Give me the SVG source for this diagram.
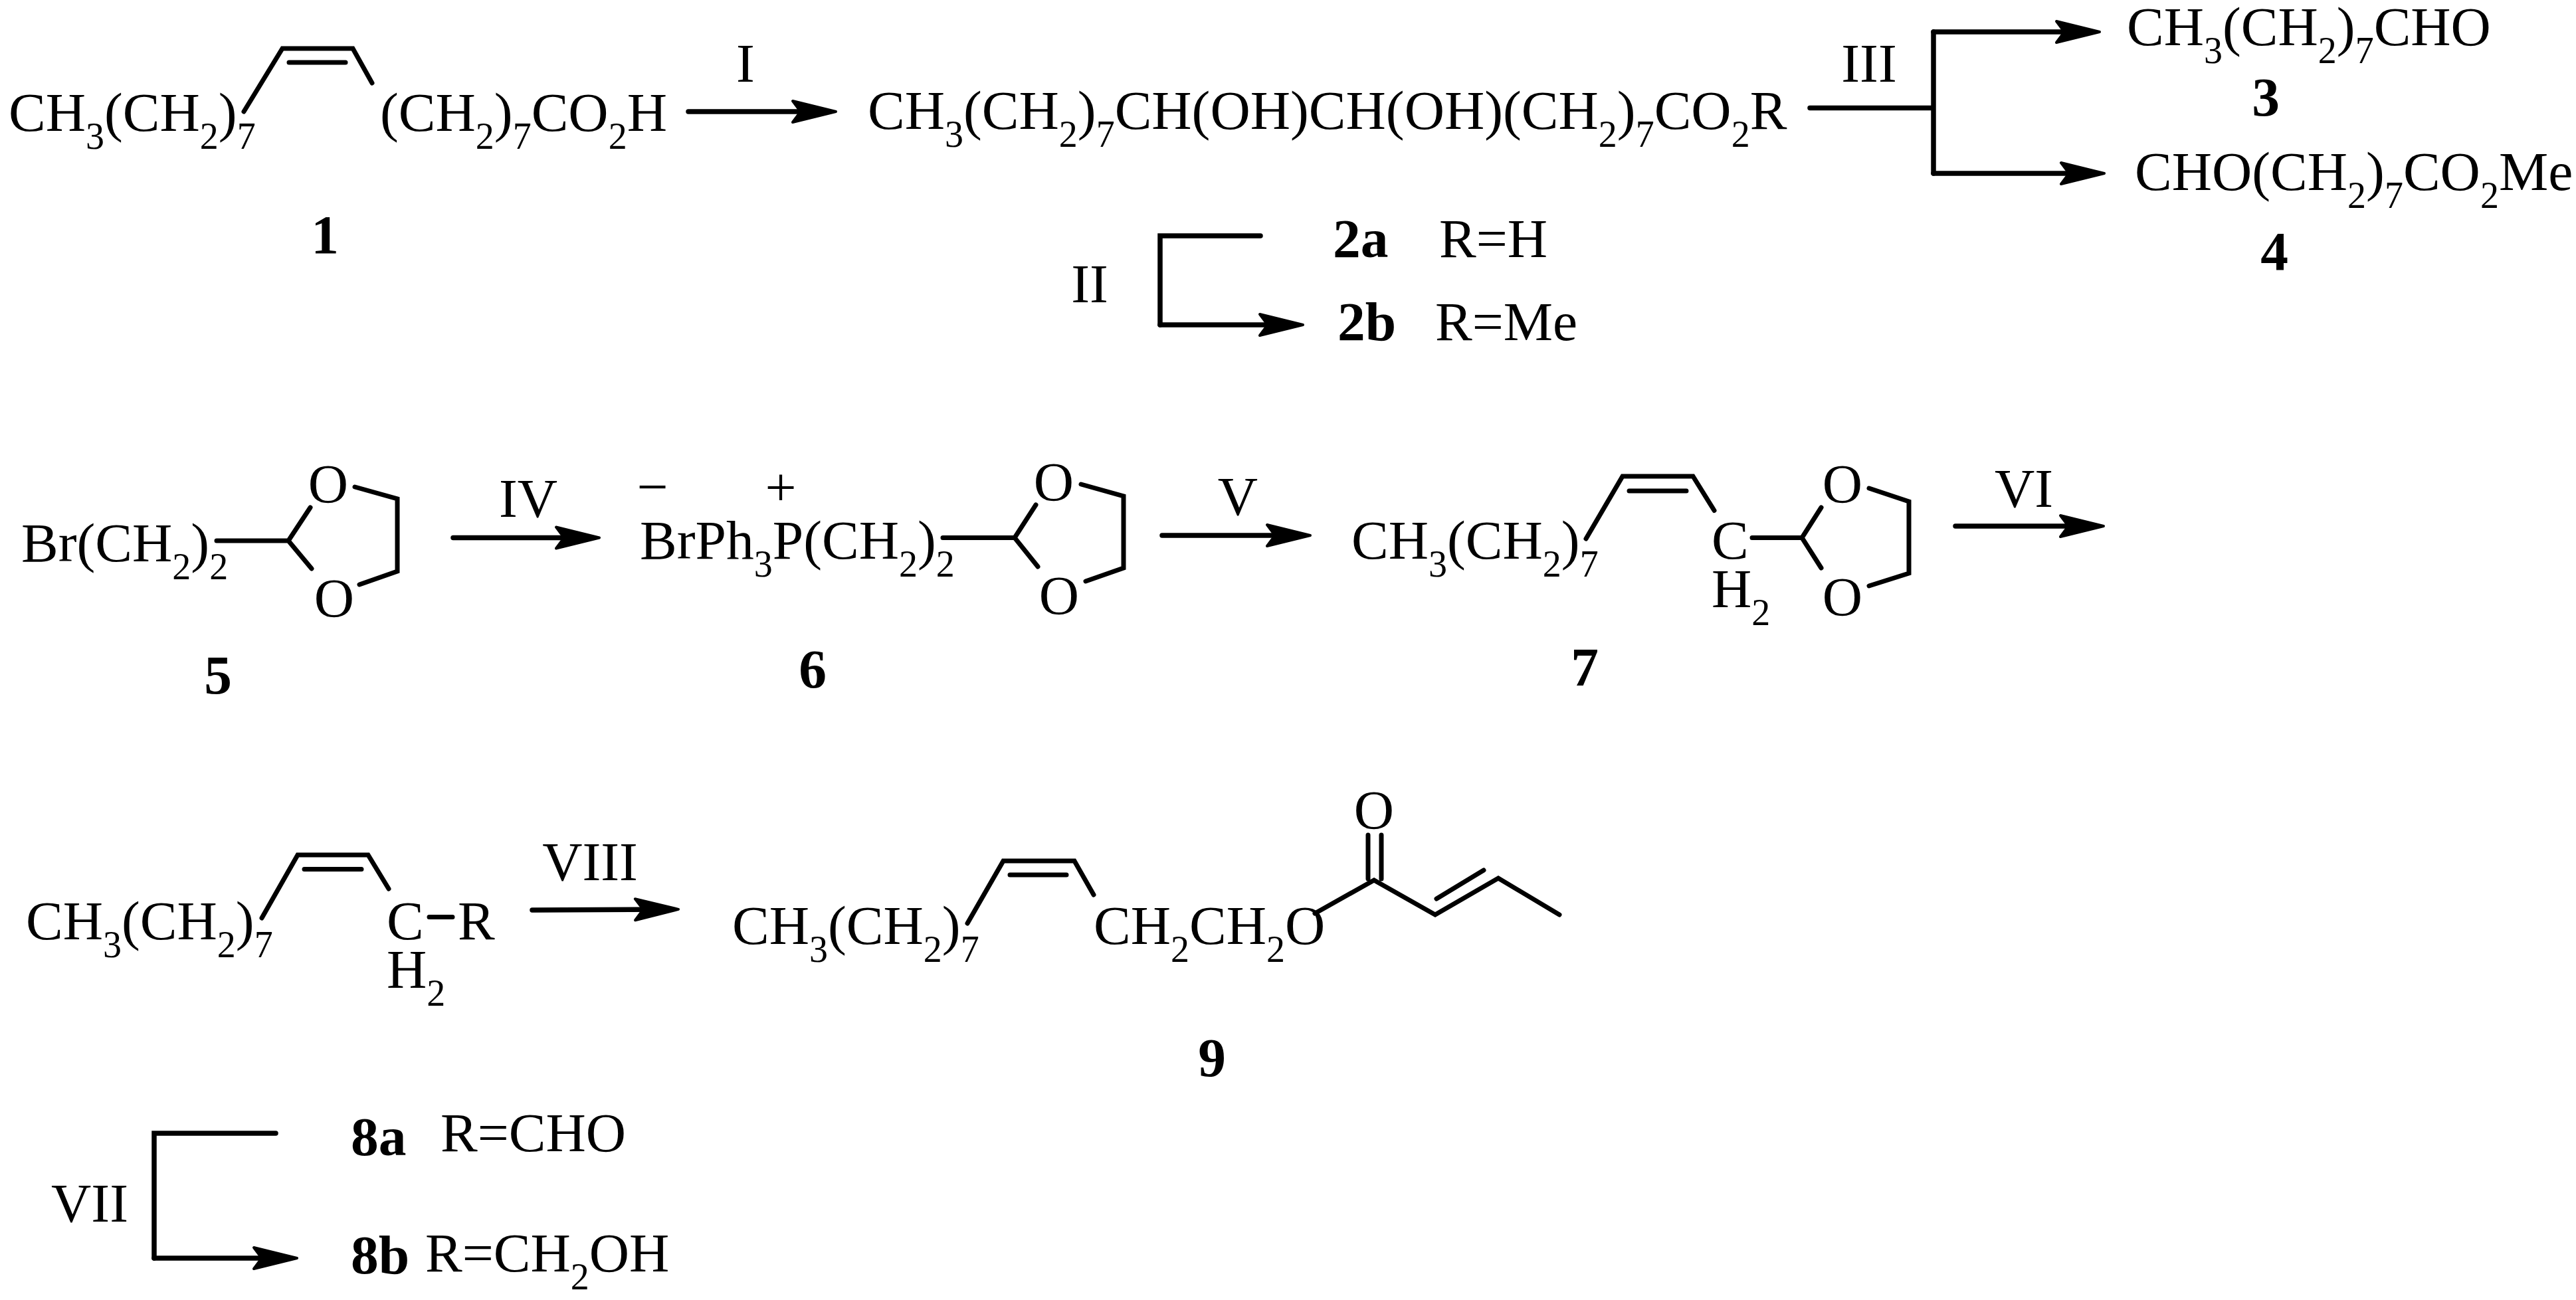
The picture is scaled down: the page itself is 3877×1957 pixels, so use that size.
<svg xmlns="http://www.w3.org/2000/svg" width="3877" height="1957" viewBox="0 0 3877 1957">
<style>
text{font-family:"Liberation Serif","Times New Roman",serif;font-size:83.500px;fill:#000}
.b{font-weight:bold}
.m{text-anchor:middle}
.s{font-size:56px}
.bond{fill:none;stroke:#000;stroke-width:7;stroke-linejoin:miter;stroke-linecap:round}
.arrow{fill:none;stroke:#000;stroke-width:7.500;stroke-linejoin:miter;stroke-linecap:round}
.head{marker-end:url(#ah)}
</style>
<defs>
<marker id="ah" markerUnits="userSpaceOnUse" markerWidth="90" markerHeight="48" viewBox="0 -24 90 48" refX="44" refY="0" orient="auto" overflow="visible">
<path d="M2 -16L67 0L2 16L14 0Z" fill="#000" stroke="#000" stroke-width="4" stroke-linejoin="round"/>
</marker>
</defs>
<rect width="3877" height="1957" fill="#fff"/>
<g id="connectors">
<path class="arrow head" d="M1036 168H1235"/>
<path class="arrow" d="M2724 162.500H2910M2910 48V261"/>
<path class="arrow head" d="M2910 48H3137"/>
<path class="arrow head" d="M2910 261H3144"/>
<path class="arrow" d="M1897 355H1746V489"/>
<path class="arrow head" d="M1746 489H1938"/>
<path class="arrow head" d="M682 809.500H879"/>
<path class="arrow head" d="M1749 806H1949"/>
<path class="arrow head" d="M2943 792H3143"/>
<path class="arrow head" d="M801 1370L998 1369"/>
<path class="arrow" d="M415 1706H232V1894"/>
<path class="arrow head" d="M232 1894H424"/>
</g>
<g id="labels">
<text class="m" x="1122" y="123">I</text>
<text class="m" x="2813" y="123">III</text>
<text class="m" x="1640" y="455">II</text>
<text class="m" x="795" y="778">IV</text>
<text class="m" x="1863" y="775">V</text>
<text class="m" x="3046" y="763">VI</text>
<text class="m" x="135" y="1839">VII</text>
<text class="m" x="888" y="1325">VIII</text>
</g>
<g id="node-1">
<text x="13" y="197">CH<tspan class="s" dy="27">3</tspan><tspan dy="-27">(CH</tspan><tspan class="s" dy="27">2</tspan><tspan dy="-27">)</tspan><tspan class="s" dy="27">7</tspan></text>
<text x="572" y="197">(CH<tspan class="s" dy="27">2</tspan><tspan dy="-27">)</tspan><tspan class="s" dy="27">7</tspan><tspan dy="-27">CO</tspan><tspan class="s" dy="27">2</tspan><tspan dy="-27">H</tspan></text>
<path class="bond" d="M367 168L425 73H531L560 125M435 94H520"/>
<text class="b m" x="489" y="381">1</text>
</g>
<g id="node-2">
<text x="1306" y="194">CH<tspan class="s" dy="27">3</tspan><tspan dy="-27">(CH</tspan><tspan class="s" dy="27">2</tspan><tspan dy="-27">)</tspan><tspan class="s" dy="27">7</tspan><tspan dy="-27">CH(OH)CH(OH)(CH</tspan><tspan class="s" dy="27">2</tspan><tspan dy="-27">)</tspan><tspan class="s" dy="27">7</tspan><tspan dy="-27">CO</tspan><tspan class="s" dy="27">2</tspan><tspan dy="-27">R</tspan></text>
</g>
<g id="node-2a">
<text class="b" x="2006" y="387">2a</text>
<text x="2166" y="387">R=H</text>
</g>
<g id="node-2b">
<text class="b" x="2013" y="512">2b</text>
<text x="2160" y="512">R=Me</text>
</g>
<g id="node-3">
<text x="3201" y="68">CH<tspan class="s" dy="27">3</tspan><tspan dy="-27">(CH</tspan><tspan class="s" dy="27">2</tspan><tspan dy="-27">)</tspan><tspan class="s" dy="27">7</tspan><tspan dy="-27">CHO</tspan></text>
<text class="b m" x="3410" y="174">3</text>
</g>
<g id="node-4">
<text x="3213" y="286">CHO(CH<tspan class="s" dy="27">2</tspan><tspan dy="-27">)</tspan><tspan class="s" dy="27">7</tspan><tspan dy="-27">CO</tspan><tspan class="s" dy="27">2</tspan><tspan dy="-27">Me</tspan></text>
<text class="b m" x="3423" y="406">4</text>
</g>
<g id="node-5">
<text x="32" y="845">Br(CH<tspan class="s" dy="27">2</tspan><tspan dy="-27">)</tspan><tspan class="s" dy="27">2</tspan></text>
<path class="bond" d="M326 814H434M467 764L434 814L469 856M534 733L598 751V860L541 880"/>
<text class="m" x="494" y="756">O</text>
<text class="m" x="503" y="928">O</text>
<text class="b m" x="328" y="1044">5</text>
</g>
<g id="node-6">
<text class="m" x="982" y="761">−</text>
<text class="m" x="1175" y="761">+</text>
<text x="963" y="841">BrPh<tspan class="s" dy="27">3</tspan><tspan dy="-27">P(CH</tspan><tspan class="s" dy="27">2</tspan><tspan dy="-27">)</tspan><tspan class="s" dy="27">2</tspan></text>
<path class="bond" d="M1419 809.500H1527M1559 760L1527 809.500L1562 853M1627 729L1691 747V855L1634 875"/>
<text class="m" x="1586" y="753">O</text>
<text class="m" x="1594" y="924">O</text>
<text class="b m" x="1223" y="1035">6</text>
</g>
<g id="node-7">
<text x="2034" y="841">CH<tspan class="s" dy="27">3</tspan><tspan dy="-27">(CH</tspan><tspan class="s" dy="27">2</tspan><tspan dy="-27">)</tspan><tspan class="s" dy="27">7</tspan></text>
<text x="2576" y="841">C</text>
<text x="2576" y="914">H<tspan class="s" dy="27">2</tspan></text>
<path class="bond" d="M2387 811L2442 717H2548L2580 768.500M2452 739H2538M2637 809.500H2712M2741 764L2712 809.500L2741 855M2813 735L2873 755V863L2813 882"/>
<text class="m" x="2773" y="756">O</text>
<text class="m" x="2773" y="926">O</text>
<text class="b m" x="2385" y="1032">7</text>
</g>
<g id="node-8">
<text x="39" y="1413.500">CH<tspan class="s" dy="27">3</tspan><tspan dy="-27">(CH</tspan><tspan class="s" dy="27">2</tspan><tspan dy="-27">)</tspan><tspan class="s" dy="27">7</tspan></text>
<text x="582" y="1413.500">C</text>
<text x="689" y="1413.500">R</text>
<text x="582" y="1487">H<tspan class="s" dy="27">2</tspan></text>
<path class="bond" d="M394 1382L448 1287H554L585 1338M458 1308.500H544M646 1380.500H681"/>
</g>
<g id="node-8a">
<text class="b" x="528" y="1739">8a</text>
<text x="663" y="1733">R=CHO</text>
</g>
<g id="node-8b">
<text class="b" x="528" y="1917">8b</text>
<text x="640" y="1914">R=CH<tspan class="s" dy="27">2</tspan><tspan dy="-27">OH</tspan></text>
</g>
<g id="node-9">
<text x="1102" y="1421">CH<tspan class="s" dy="27">3</tspan><tspan dy="-27">(CH</tspan><tspan class="s" dy="27">2</tspan><tspan dy="-27">)</tspan><tspan class="s" dy="27">7</tspan></text>
<text x="1646" y="1421">CH<tspan class="s" dy="27">2</tspan><tspan dy="-27">CH</tspan><tspan class="s" dy="27">2</tspan><tspan dy="-27">O</tspan></text>
<path class="bond" d="M1456 1390L1510 1296H1617L1646 1347M1520 1317H1605M1979 1375L2068 1325L2160 1377L2255 1322L2347 1377M2162 1353L2233 1310M2059 1257V1323M2079 1257V1323"/>
<text class="m" x="2068" y="1247">O</text>
<text class="b m" x="1824" y="1620">9</text>
</g>
</svg>
